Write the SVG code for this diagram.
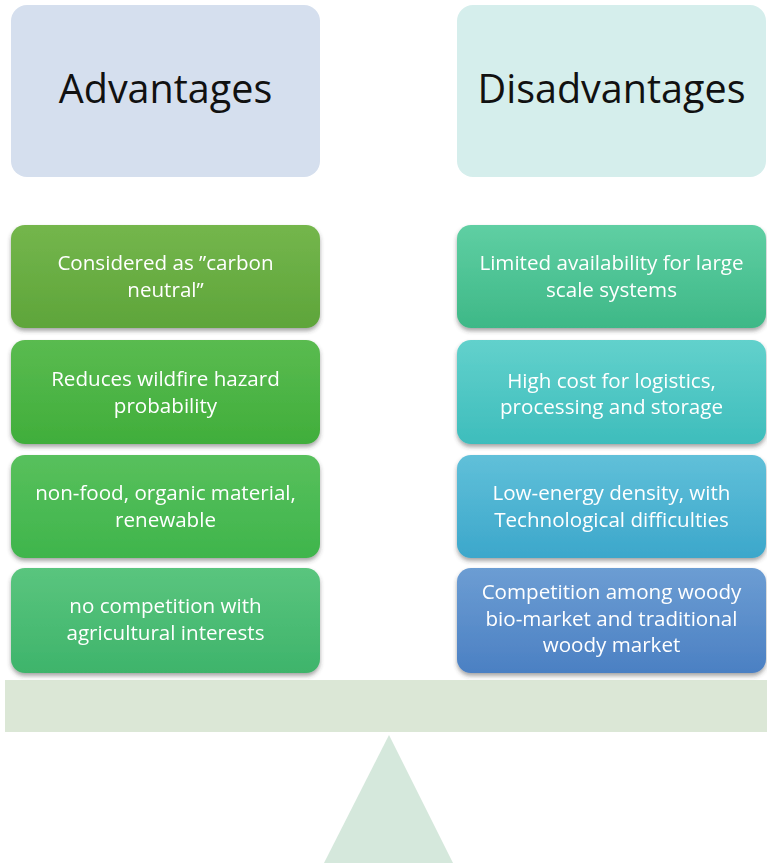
<svg xmlns="http://www.w3.org/2000/svg" width="767" height="863" viewBox="0 0 767 863">
  <style>
    .head { font-family: "Open Sans", "Lato", sans-serif; font-size: 39.5px; fill: #111111; text-anchor: middle; }
    .item { font-family: "Open Sans", "Lato", sans-serif; font-size: 20.6px; fill: #ffffff; text-anchor: middle; font-variant-ligatures: none; }
  </style>
  <defs>
    <filter id="shadow" x="-5%" y="-10%" width="110%" height="125%">
      <feDropShadow dx="0" dy="3" stdDeviation="2" flood-color="#3a3a3a" flood-opacity="0.45"/>
    </filter>
    <linearGradient id="gA1" x1="0" y1="0" x2="0" y2="1"><stop offset="0" stop-color="#74b64c"/><stop offset="1" stop-color="#5ea53a"/></linearGradient>
    <linearGradient id="gA2" x1="0" y1="0" x2="0" y2="1"><stop offset="0" stop-color="#5abb50"/><stop offset="1" stop-color="#40ae3b"/></linearGradient>
    <linearGradient id="gA3" x1="0" y1="0" x2="0" y2="1"><stop offset="0" stop-color="#58c05c"/><stop offset="1" stop-color="#3fb54c"/></linearGradient>
    <linearGradient id="gA4" x1="0" y1="0" x2="0" y2="1"><stop offset="0" stop-color="#5ac57e"/><stop offset="1" stop-color="#3eb46b"/></linearGradient>
    <linearGradient id="gD1" x1="0" y1="0" x2="0" y2="1"><stop offset="0" stop-color="#5fcfa3"/><stop offset="1" stop-color="#3eb887"/></linearGradient>
    <linearGradient id="gD2" x1="0" y1="0" x2="0" y2="1"><stop offset="0" stop-color="#62d1cc"/><stop offset="1" stop-color="#3ebdbc"/></linearGradient>
    <linearGradient id="gD3" x1="0" y1="0" x2="0" y2="1"><stop offset="0" stop-color="#60c0d9"/><stop offset="1" stop-color="#3ca7cb"/></linearGradient>
    <linearGradient id="gD4" x1="0" y1="0" x2="0" y2="1"><stop offset="0" stop-color="#6c9dd3"/><stop offset="1" stop-color="#4b80c3"/></linearGradient>
  </defs>

  <rect width="767" height="863" fill="#ffffff"/>

  <!-- fulcrum and beam -->
  <g id="fulcrum">
    <polygon points="389,735 324,863 453,863" fill="#d5e8dc"/>
  </g>
  <g id="beam">
    <rect x="5" y="680" width="762" height="52" fill="#dbe7d6"/>
  </g>

  <!-- column headers -->
  <g id="advantages">
    <rect x="11" y="5" width="309" height="172" rx="16" fill="#d5dfee"/>
    <text class="head" x="165.5" y="103">Advantages</text>
  </g>
  <g id="disadvantages">
    <rect x="457" y="5" width="309" height="172" rx="16" fill="#d5eeec"/>
    <text class="head" x="611.5" y="103">Disadvantages</text>
  </g>

  <!-- advantages -->
  <g id="adv1" filter="url(#shadow)">
    <rect x="11" y="225" width="309" height="103" rx="14" fill="url(#gA1)"/>
    <text class="item" x="165.5" y="270">Considered as ”carbon</text>
    <text class="item" x="165.5" y="297">neutral”</text>
  </g>
  <g id="adv2" filter="url(#shadow)">
    <rect x="11" y="340" width="309" height="104" rx="14" fill="url(#gA2)"/>
    <text class="item" x="165.5" y="386">Reduces wildfire hazard</text>
    <text class="item" x="165.5" y="413">probability</text>
  </g>
  <g id="adv3" filter="url(#shadow)">
    <rect x="11" y="455" width="309" height="103" rx="14" fill="url(#gA3)"/>
    <text class="item" x="165.5" y="500">non-food, organic material,</text>
    <text class="item" x="165.5" y="527">renewable</text>
  </g>
  <g id="adv4" filter="url(#shadow)">
    <rect x="11" y="568" width="309" height="105" rx="14" fill="url(#gA4)"/>
    <text class="item" x="165.5" y="613">no competition with</text>
    <text class="item" x="165.5" y="640">agricultural interests</text>
  </g>

  <!-- disadvantages -->
  <g id="dis1" filter="url(#shadow)">
    <rect x="457" y="225" width="309" height="103" rx="14" fill="url(#gD1)"/>
    <text class="item" x="611.5" y="270">Limited availability for large</text>
    <text class="item" x="611.5" y="297">scale systems</text>
  </g>
  <g id="dis2" filter="url(#shadow)">
    <rect x="457" y="340" width="309" height="104" rx="14" fill="url(#gD2)"/>
    <text class="item" x="611.5" y="388">High cost for logistics,</text>
    <text class="item" x="611.5" y="414">processing and storage</text>
  </g>
  <g id="dis3" filter="url(#shadow)">
    <rect x="457" y="455" width="309" height="103" rx="14" fill="url(#gD3)"/>
    <text class="item" x="611.5" y="500">Low-energy density, with</text>
    <text class="item" x="611.5" y="527">Technological difficulties</text>
  </g>
  <g id="dis4" filter="url(#shadow)">
    <rect x="457" y="568" width="309" height="105" rx="14" fill="url(#gD4)"/>
    <text class="item" x="611.5" y="599">Competition among woody</text>
    <text class="item" x="611.5" y="626">bio-market and traditional</text>
    <text class="item" x="611.5" y="652">woody market</text>
  </g>
</svg>
